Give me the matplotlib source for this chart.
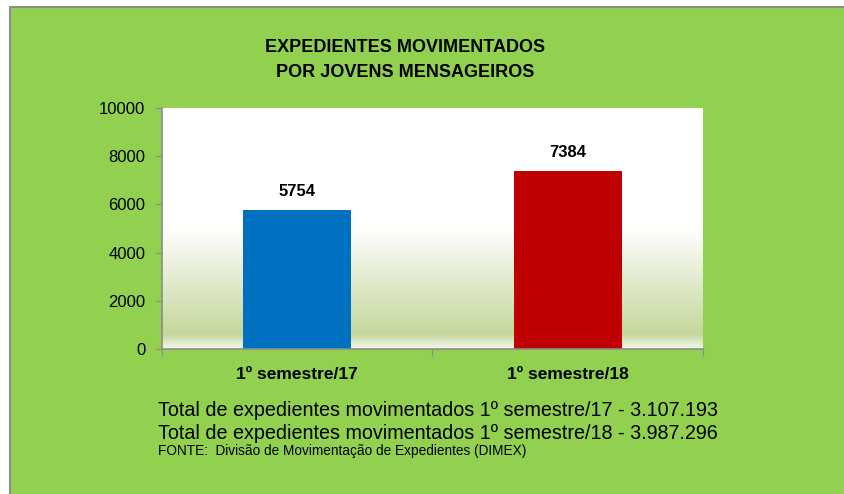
import numpy as np
import matplotlib.pyplot as plt
from matplotlib.colors import LinearSegmentedColormap
from matplotlib.patches import Rectangle

categories = ['1º semestre/17', '1º semestre/18']
values = [5754, 7384]
bar_colors = ['#0070C0', '#C00000']
title = 'EXPEDIENTES MOVIMENTADOS\nPOR JOVENS MENSAGEIROS'
notes = ['Total de expedientes movimentados 1º semestre/17 - 3.107.193',
         'Total de expedientes movimentados 1º semestre/18 - 3.987.296']
source = 'FONTE:  Divisão de Movimentação de Expedientes (DIMEX)'

plt.rcParams['font.family'] = ['Liberation Sans', 'DejaVu Sans']

W, H = 845, 494
fig = plt.figure(figsize=(W / 100, H / 100), dpi=100)
fig.patch.set_facecolor('white')

# green panel with grey border on top/left
fig.patches.append(Rectangle((10 / W, -0.1), 1.1, 1.1 - 7 / H, transform=fig.transFigure,
                             facecolor='#92D050', edgecolor='#8C8C8C', linewidth=1.5, zorder=-5))

ax = fig.add_axes([162 / W, 1 - 349 / H, 541 / W, 241 / H])
ax.set_facecolor('white')

# gradient background in the plot area
grad = LinearSegmentedColormap.from_list('g', [(0.0, '#F4F7EC'), (0.06, '#C4D79B'),
                                               (0.5, '#FFFFFF'), (1.0, '#FFFFFF')])
ax.imshow(np.linspace(1, 0, 256).reshape(-1, 1), cmap=grad, aspect='auto',
          extent=[0, 1, 0, 1], transform=ax.transAxes, zorder=0)

x = np.arange(len(categories))
bars = ax.bar(x, values, width=0.4, color=bar_colors, zorder=2)
for b, v in zip(bars, values):
    ax.text(b.get_x() + b.get_width() / 2, v + 450, str(v), ha='center', va='bottom',
            fontsize=12, fontweight='bold', zorder=3)

ax.set_xlim(-0.5, 1.5)
ax.set_ylim(0, 10000)
ax.set_yticks(range(0, 10001, 2000))
ax.tick_params(axis='y', labelsize=12, length=5, color='#8C8C8C', pad=7)
ax.set_xticks([-0.5, 0.5, 1.5])
ax.set_xticklabels([])
ax.set_xticks(x, minor=True)
ax.set_xticklabels(categories, minor=True, fontsize=12.5, fontweight='bold')
ax.tick_params(axis='x', which='minor', length=0, pad=13)
ax.tick_params(axis='x', which='major', length=5, color='#8C8C8C')
for s in ['top', 'right']:
    ax.spines[s].set_visible(False)
for s in ['left', 'bottom']:
    ax.spines[s].set_color('#8C8C8C')
    ax.spines[s].set_linewidth(1.2)

fig.text(405 / W, 1 - 60 / H, title, ha='center', va='center', fontsize=13,
         fontweight='bold', linespacing=1.6)

fig.text(158 / W, 1 - 410 / H, notes[0], ha='left', va='center', fontsize=14.2)
fig.text(158 / W, 1 - 433 / H, notes[1], ha='left', va='center', fontsize=14.2)
fig.text(158 / W, 1 - 451 / H, source, ha='left', va='center', fontsize=9.8)

fig.savefig('out.png', dpi=100)
